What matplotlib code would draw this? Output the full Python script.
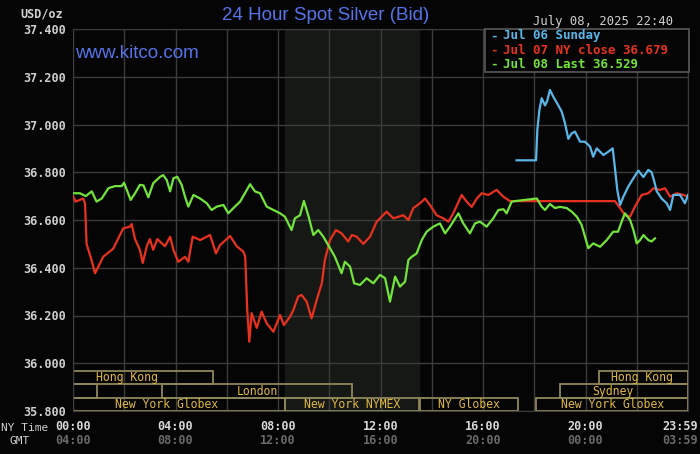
import matplotlib.pyplot as plt
from matplotlib.patches import Rectangle
import numpy as np

# series: hours (NY time) and bid price
red_h = [0, 0.1, 0.4, 0.47, 0.53, 0.73, 0.86, 1.18, 1.57, 1.96, 2.22, 2.29, 2.42, 2.61, 2.72, 2.88,
         3.0, 3.13, 3.29, 3.59, 3.79, 3.92, 4.11, 4.37, 4.5, 4.67, 4.96, 5.22, 5.35, 5.58, 5.74,
         6.13, 6.39, 6.65, 6.72, 6.8, 6.88, 6.97, 7.17, 7.36, 7.56, 7.82, 8.08, 8.23, 8.47, 8.6,
         8.79, 8.92, 9.12, 9.31, 9.51, 9.71, 9.83, 10.03, 10.26, 10.48, 10.74, 10.88, 11.07, 11.33,
         11.59, 11.85, 12.24, 12.5, 12.89, 13.09, 13.28, 13.54, 13.74, 13.93, 14.19, 14.45, 14.65,
         14.84, 15.17, 15.36, 15.56, 15.76, 15.95, 16.21, 16.53, 16.79, 17.05, 21.15, 21.35, 21.54,
         21.74, 21.93, 22.19, 22.45, 22.65, 22.91, 23.1, 23.3, 23.56, 23.82, 24.0]
red_v = [36.70, 36.677, 36.69, 36.67, 36.50, 36.43, 36.377, 36.446, 36.48, 36.565, 36.572, 36.583,
         36.52, 36.475, 36.42, 36.49, 36.52, 36.475, 36.52, 36.49, 36.53, 36.475, 36.425, 36.446,
         36.425, 36.53, 36.516, 36.53, 36.537, 36.46, 36.495, 36.533, 36.49, 36.467, 36.446,
         36.223, 36.09, 36.21, 36.148, 36.216, 36.167, 36.132, 36.202, 36.16, 36.195, 36.223,
         36.28, 36.286, 36.258, 36.188, 36.265, 36.335, 36.433, 36.516, 36.558, 36.544, 36.51,
         36.537, 36.53, 36.50, 36.53, 36.593, 36.635, 36.607, 36.62, 36.60, 36.65, 36.67, 36.69,
         36.663, 36.62, 36.607, 36.593, 36.628, 36.705, 36.677, 36.655, 36.69, 36.712, 36.705,
         36.726, 36.698, 36.679, 36.679, 36.65, 36.62, 36.614, 36.656, 36.705, 36.712, 36.733,
         36.726, 36.733, 36.698, 36.712, 36.705, 36.698]

green_h = [0, 0.27, 0.5, 0.73, 0.92, 1.12, 1.38, 1.64, 1.9, 1.99, 2.1, 2.25, 2.42, 2.61, 2.75, 2.94,
           3.13, 3.4, 3.52, 3.66, 3.79, 3.92, 4.07, 4.24, 4.37, 4.5, 4.7, 4.96, 5.22, 5.41, 5.61,
           5.87, 6.06, 6.26, 6.52, 6.71, 6.91, 7.1, 7.3, 7.56, 7.82, 8.08, 8.27, 8.53, 8.66, 8.86,
           9.01, 9.18, 9.38, 9.57, 9.77, 10.03, 10.22, 10.48, 10.61, 10.81, 10.97, 11.2, 11.46,
           11.72, 11.98, 12.18, 12.37, 12.57, 12.76, 12.96, 13.09, 13.22, 13.41, 13.61, 13.8,
           14.06, 14.32, 14.52, 14.71, 15.04, 15.23, 15.49, 15.69, 15.88, 16.14, 16.4, 16.6,
           16.8, 16.92, 17.12, 17.31, 18.1, 18.29, 18.42, 18.61, 18.81, 19.0, 19.27, 19.46, 19.66,
           19.85, 19.98, 20.11, 20.3, 20.57, 20.83, 21.08, 21.27, 21.41, 21.54, 21.74, 21.87,
           22.0, 22.13, 22.26, 22.45, 22.58, 22.71]
green_v = [36.712, 36.712, 36.70, 36.72, 36.677, 36.69, 36.733, 36.742, 36.742, 36.756, 36.726,
           36.684, 36.712, 36.747, 36.745, 36.695, 36.754, 36.781, 36.788, 36.767, 36.72, 36.775,
           36.781, 36.747, 36.698, 36.656, 36.705, 36.69, 36.67, 36.642, 36.656, 36.663, 36.628,
           36.65, 36.677, 36.712, 36.75, 36.72, 36.712, 36.656, 36.642, 36.628, 36.614, 36.558,
           36.607, 36.62, 36.68, 36.62, 36.537, 36.558, 36.53, 36.482, 36.446, 36.377, 36.425,
           36.405, 36.335, 36.328, 36.356, 36.335, 36.37, 36.356, 36.258, 36.363, 36.321, 36.342,
           36.433, 36.446, 36.46, 36.516, 36.551, 36.572, 36.586, 36.544, 36.572, 36.628, 36.586,
           36.544, 36.586, 36.593, 36.572, 36.607, 36.642, 36.645, 36.628, 36.677, 36.68, 36.69,
           36.656, 36.642, 36.667, 36.65, 36.655, 36.65, 36.635, 36.614, 36.579, 36.53, 36.482,
           36.502, 36.488, 36.516, 36.551, 36.551, 36.593, 36.628, 36.60, 36.558, 36.502, 36.516,
           36.537, 36.516, 36.51, 36.523]

blue_h = [17.31, 18.07, 18.12, 18.2, 18.29, 18.42, 18.51, 18.61, 18.74, 18.94, 19.07, 19.2, 19.33,
          19.46, 19.59, 19.79, 19.98, 20.18, 20.3, 20.44, 20.7, 20.89, 21.06, 21.15, 21.24, 21.35,
          21.48, 21.67, 21.87, 22.06, 22.26, 22.45, 22.58, 22.67, 22.78, 22.97, 23.17, 23.3,
          23.43, 23.69, 23.88, 24.0]
blue_v = [36.85, 36.85, 36.977, 37.06, 37.11, 37.08, 37.10, 37.145, 37.117, 37.08, 37.054, 37.005,
          36.94, 36.963, 36.97, 36.928, 36.928, 36.907, 36.865, 36.90, 36.872, 36.886, 36.90,
          36.817, 36.726, 36.663, 36.698, 36.74, 36.775, 36.807, 36.78, 36.81, 36.80, 36.767,
          36.72, 36.69, 36.67, 36.642, 36.705, 36.705, 36.67, 36.705]

# trading sessions: (row, start hour, end hour, label, label centre)
sessions = [
    (0, 0.0, 5.47, "Hong Kong", 2.1),
    (0, 20.54, 24.0, "Hong Kong", 22.2),
    (1, 0.0, 0.95, "", 0),
    (1, 3.46, 10.9, "London", 7.2),
    (1, 19.0, 24.0, "Sydney", 21.05),
    (2, 0.0, 8.27, "New York Globex", 3.65),
    (2, 8.27, 13.52, "New York NYMEX", 10.9),
    (2, 13.55, 17.38, "NY Globex", 15.45),
    (2, 18.05, 24.0, "New York Globex", 21.05),
]
row_edges = [(35.912, 35.969), (35.855, 35.912), (35.80, 35.855)]

ny_ticks = [0, 4, 8, 12, 16, 20, 23.983]
ny_labels = ["00:00", "04:00", "08:00", "12:00", "16:00", "20:00", "23:59"]
gmt_labels = ["04:00", "08:00", "12:00", "16:00", "20:00", "00:00", "03:59"]

mono = "DejaVu Sans Mono"
fig = plt.figure(figsize=(7, 4.54), dpi=100)
fig.patch.set_facecolor("#050505")
ax = fig.add_axes([73 / 700, 1 - 411 / 454, 615 / 700, 382 / 454])
ax.set_facecolor("#050505")
ax.set_xlim(0, 24)
ax.set_ylim(35.8, 37.4)

# NYMEX shading
ax.axvspan(8.27, 13.52, color="#151815", zorder=0)

for x in np.arange(0, 24.01, 2):
    ax.axvline(x, color="#3c3c3c", lw=1.0, zorder=1)
for y in np.arange(35.8, 37.41, 0.2):
    ax.axhline(y, color="#3c3c3c", lw=1.0, zorder=1)

for row, s, e, lab, c in sessions:
    lo, hi = row_edges[row]
    ax.add_patch(Rectangle((s, lo), e - s, hi - lo, fill=False, ec="#8f8658", lw=1.3, zorder=2))
    if lab:
        ax.text(c, (lo + hi) / 2, lab, color="#e0b940", fontsize=8.3, family=mono,
                ha="center", va="center", zorder=3)

ax.plot(red_h, red_v, color="#e8321f", lw=1.6, zorder=4)
ax.plot(green_h, green_v, color="#72e43c", lw=1.6, zorder=5)
ax.plot(blue_h, blue_v, color="#5ab6e8", lw=1.6, zorder=6)

ax.set_yticks(np.arange(35.8, 37.41, 0.2))
ax.set_yticklabels([f"{v:.3f}" for v in np.arange(35.8, 37.41, 0.2)], family=mono,
                   fontsize=8.5, fontweight="bold", color="#d0d0d0")
ax.set_xticks([])
ax.tick_params(axis="y", length=0, pad=5)
for sp in ax.spines.values():
    sp.set_color("#3c3c3c")

# time labels (last one right-aligned so it stays inside the picture)
for t, a, b in zip(ny_ticks, ny_labels, gmt_labels):
    if t > 23:
        xt, ha = 698 / 700, "right"
    else:
        xt, ha = (73 + t * 615 / 24) / 700, "center"
    fig.text(xt, 1 - 427 / 454, a, ha=ha, va="center",
             family=mono, fontsize=8.5, fontweight="bold", color="#d8d8d8")
    fig.text(xt, 1 - 441 / 454, b, ha=ha, va="center",
             family=mono, fontsize=8.5, fontweight="bold", color="#6a6a6a")
fig.text(1 / 700, 1 - 428 / 454, "NY Time", family=mono, fontsize=8, color="#d0d0d0",
         ha="left", va="center")
fig.text(10 / 700, 1 - 441 / 454, "GMT", family=mono, fontsize=8, color="#d0d0d0",
         ha="left", va="center")
fig.text(20 / 700, 1 - 14 / 454, "USD/oz", family=mono, fontsize=8.5, fontweight="bold",
         color="#d0d0d0", ha="left", va="center")

fig.text(326 / 700, 1 - 16 / 454, "24 Hour Spot Silver (Bid)", family="Liberation Sans",
         fontsize=13.5, color="#5673ea", ha="center", va="center")
fig.text(603 / 700, 1 - 21 / 454, "July 08, 2025 22:40", family=mono, fontsize=8.8,
         color="#d0d0d0", ha="center", va="center")
ax.text(0.003, 0.935, "www.kitco.com", transform=ax.transAxes, family="Liberation Sans",
        fontsize=13.5, color="#5673ea", ha="left", va="center", zorder=7)

# legend box
leg = Rectangle((485 / 700, 1 - 72 / 454), 204 / 700, 43 / 454, transform=fig.transFigure,
                fc="#050505", ec="#5a5a5a", lw=1.2, zorder=8)
fig.patches.append(leg)
legend_rows = [("Jul 06 Sunday", "#5ab6e8", 36), ("Jul 07 NY close 36.679", "#e8321f", 50),
               ("Jul 08 Last 36.529", "#72e43c", 64)]
for txt, col, yy in legend_rows:
    fig.text(490 / 700, 1 - yy / 454, "-", family=mono, fontsize=9, fontweight="bold",
             color=col, ha="left", va="center", zorder=9)
    fig.text(503 / 700, 1 - yy / 454, txt, family=mono, fontsize=9, fontweight="bold",
             color=col, ha="left", va="center", zorder=9)

fig.savefig("out.png", dpi=100, facecolor=fig.get_facecolor())
